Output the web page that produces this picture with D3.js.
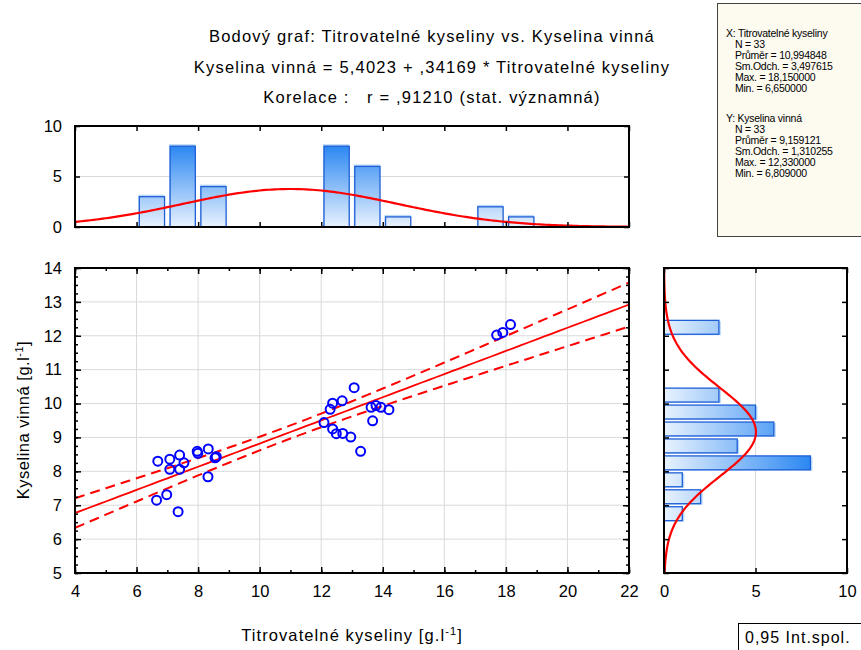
<!DOCTYPE html>
<html>
<head>
<meta charset="utf-8">
<script src="https://cdn.jsdelivr.net/npm/d3@7"></script>
<style>
  html, body { margin: 0; padding: 0; background: #fff; }
  svg { display: block; font-family: "Liberation Sans", Arial, sans-serif; }
</style>
</head>
<body>
<svg id="chart" width="861" height="650"></svg>
<script>
// Titratable acidity (x) and tartaric acid (y), g/l
const titrAcid = [
  6.69, 7.08, 7.40, 7.54, 7.08, 7.40, 7.97, 7.99, 8.33, 8.59, 8.32, 6.98, 6.65, 7.35, 8.55,
  13.07, 12.37, 12.68, 12.29, 13.62, 13.78, 13.94, 14.20, 12.09, 12.37, 12.49, 12.70, 12.96, 13.67, 13.28,
  17.70, 17.90, 18.15
];
const tartAcid = [
  8.30, 8.36, 8.48, 8.25, 8.06, 8.06, 8.59, 8.53, 8.66, 8.43, 7.84, 7.31, 7.15, 6.809, 8.40,
  10.47, 10.01, 10.08, 9.83, 9.89, 9.94, 9.89, 9.82, 9.44, 9.25, 9.11, 9.12, 9.01, 9.49, 8.59,
  12.02, 12.10, 12.33
];

// Fit and descriptive statistics
const intercept = 5.4023, slope = 0.34169, corrR = 0.91210;
const nObs = 33;
const statsX = { mean: 10.994848, sd: 3.497615 };
const statsY = { mean: 9.159121, sd: 1.310255 };

// Histogram bin edges
const xBinEdges = d3.range(6, 20, 1);
const yBinEdges = d3.range(6.5, 13, 0.5);

// Tick values
const xMajorTicks = [4, 6, 8, 10, 12, 14, 16, 18, 20, 22];
const xMinorTicks = d3.range(4, 22.5, 1);
const yMajorTicks = [5, 6, 7, 8, 9, 10, 11, 12, 13, 14];
const yMinorTicks = d3.range(5, 14.01, 0.25);
const countTicks = [0, 5, 10];

const titleLines = [
  "Bodový graf: Titrovatelné kyseliny vs. Kyselina vinná",
  "Kyselina vinná = 5,4023 + ,34169 * Titrovatelné kyseliny",
  "Korelace :   r = ,91210 (stat. významná)"
];
const statLinesX = ["X: Titrovatelné kyseliny", "N = 33", "Průměr = 10,994848", "Sm.Odch. = 3,497615", "Max. = 18,150000", "Min. = 6,650000"];
const statLinesY = ["Y: Kyselina vinná", "N = 33", "Průměr = 9,159121", "Sm.Odch. = 1,310255", "Max. = 12,330000", "Min. = 6,809000"];

const svg = d3.select("#chart");
const RED = "#ff0000", BLUE = "#0000ff", GRID = "#dadada";

// Scales
const x = d3.scaleLinear([4, 22], [75, 629]);
const y = d3.scaleLinear([5, 14], [573, 268]);
const hy = d3.scaleLinear([0, 10], [227, 126]);
const hx = d3.scaleLinear([0, 10], [664, 847]);

const defs = svg.append("defs");
const gTop = defs.append("linearGradient").attr("id", "gradTop")
  .attr("gradientUnits", "userSpaceOnUse")
  .attr("x1", 0).attr("x2", 0).attr("y1", hy(0)).attr("y2", hy(8));
gTop.append("stop").attr("offset", 0).attr("stop-color", "#e8f2fe");
gTop.append("stop").attr("offset", 1).attr("stop-color", "#2c88f2");
const gRight = defs.append("linearGradient").attr("id", "gradRight")
  .attr("gradientUnits", "userSpaceOnUse")
  .attr("y1", 0).attr("y2", 0).attr("x1", hx(0)).attr("x2", hx(8));
gRight.append("stop").attr("offset", 0).attr("stop-color", "#e8f2fe");
gRight.append("stop").attr("offset", 1).attr("stop-color", "#2c88f2");

function clip(id, x0, y0, w, h) {
  defs.append("clipPath").attr("id", id).append("rect")
    .attr("x", x0).attr("y", y0).attr("width", w).attr("height", h);
}
clip("clipMain", 75, 268, 554, 305);
clip("clipTop", 75, 126, 554, 101);
clip("clipRight", 664, 268, 183, 305);

// ---- Titles
svg.append("g").selectAll("text").data(titleLines).join("text")
  .attr("x", 432).attr("y", (d, i) => 42 + i * 30.5)
  .attr("text-anchor", "middle").attr("font-size", 16.5).attr("letter-spacing", 1.2)
  .style("white-space", "pre").attr("fill", "#000").text(d => d);

// ---- Statistics box
svg.append("rect").attr("x", 717.5).attr("y", 3.5).attr("width", 150).attr("height", 233)
  .attr("fill", "#fdfaf0").attr("stroke", "#444").attr("stroke-width", 1);
function statBlock(lines, y0) {
  svg.append("g").selectAll("text").data(lines).join("text")
    .attr("x", (d, i) => i === 0 ? 726 : 735)
    .attr("y", (d, i) => y0 + i * 11)
    .attr("font-size", 10.5).attr("letter-spacing", -0.25).attr("fill", "#000").text(d => d);
}
statBlock(statLinesX, 37);
statBlock(statLinesY, 122);

// ---- Inward tick helper built on d3 axes
function ticksAxis(g, axisFn, scale, values, size) {
  g.call(axisFn(scale).tickValues(values).tickSize(-size).tickFormat(""))
    .call(s => s.select(".domain").remove())
    .call(s => s.selectAll("line").attr("stroke", "#000").attr("stroke-width", 1.5));
}
function labelAxis(g, axisFn, scale, values, pad) {
  g.call(axisFn(scale).tickValues(values).tickSize(0).tickPadding(pad).tickFormat(d3.format("d")))
    .call(s => s.select(".domain").remove())
    .call(s => s.selectAll("text").attr("font-size", 16.5).attr("fill", "#000")
      .attr("font-family", "'Liberation Sans', Arial, sans-serif"));
}

// ---- Top histogram (x distribution)
const topG = svg.append("g");
topG.append("line").attr("x1", 75).attr("x2", 629).attr("y1", hy(5)).attr("y2", hy(5))
  .attr("stroke", GRID).attr("stroke-width", 1);
const xBins = d3.bin().domain([6, 19]).thresholds(xBinEdges)(titrAcid).filter(b => b.length > 0);
const barX = b => x(b.x0 + (b.x1 - b.x0) * 0.09);
const barW = b => x(b.x0 + (b.x1 - b.x0) * 0.91) - barX(b);
topG.append("g").selectAll("rect.sh").data(xBins).join("rect")
  .attr("x", b => barX(b) - 1).attr("y", b => hy(b.length) - 2)
  .attr("width", b => barW(b) + 1).attr("height", b => hy(0) - hy(b.length) + 2)
  .attr("fill", "#9cc9f6").attr("opacity", 0.7);
topG.append("g").selectAll("rect.bar").data(xBins).join("rect")
  .attr("x", barX).attr("y", b => hy(b.length))
  .attr("width", barW).attr("height", b => hy(0) - hy(b.length))
  .attr("fill", "url(#gradTop)").attr("stroke", "#1f5fd6").attr("stroke-width", 1.3);
const normX = v => nObs * 1 / (statsX.sd * Math.sqrt(2 * Math.PI)) *
  Math.exp(-0.5 * Math.pow((v - statsX.mean) / statsX.sd, 2));
topG.append("path").attr("clip-path", "url(#clipTop)")
  .datum(d3.range(4, 22.01, 0.1))
  .attr("d", d3.line().x(v => x(v)).y(v => hy(normX(v))))
  .attr("fill", "none").attr("stroke", RED).attr("stroke-width", 2.2);
ticksAxis(topG.append("g").attr("transform", `translate(0,${hy(0)})`), d3.axisBottom, x, xMajorTicks, 5);
ticksAxis(topG.append("g").attr("transform", `translate(0,${hy(10)})`), d3.axisTop, x, xMajorTicks, 5);
ticksAxis(topG.append("g").attr("transform", "translate(75,0)"), d3.axisLeft, hy, countTicks, 5);
ticksAxis(topG.append("g").attr("transform", "translate(629,0)"), d3.axisRight, hy, countTicks, 5);
labelAxis(topG.append("g").attr("transform", "translate(75,0)"), d3.axisLeft, hy, countTicks, 13);
topG.append("rect").attr("x", 75).attr("y", 126).attr("width", 554).attr("height", 101)
  .attr("fill", "none").attr("stroke", "#000").attr("stroke-width", 2);

// ---- Main scatter plot
const mainG = svg.append("g");
mainG.append("g").selectAll("line").data(xMajorTicks.slice(1, -1)).join("line")
  .attr("x1", d => x(d)).attr("x2", d => x(d)).attr("y1", 268).attr("y2", 573)
  .attr("stroke", GRID).attr("stroke-width", 1);
mainG.append("g").selectAll("line").data(yMajorTicks.slice(1, -1)).join("line")
  .attr("y1", d => y(d)).attr("y2", d => y(d)).attr("x1", 75).attr("x2", 629)
  .attr("stroke", GRID).attr("stroke-width", 1);

// regression line and 95% confidence band for the mean
const Sxx = (nObs - 1) * statsX.sd * statsX.sd;
const sRes = statsY.sd * Math.sqrt(1 - corrR * corrR) * Math.sqrt((nObs - 1) / (nObs - 2));
const tCrit = 2.0395;
const fit = v => intercept + slope * v;
const half = v => tCrit * sRes * Math.sqrt(1 / nObs + Math.pow(v - statsX.mean, 2) / Sxx);
const grid = d3.range(4, 22.01, 0.25);
const lines = mainG.append("g").attr("clip-path", "url(#clipMain)");
lines.append("path").datum(grid)
  .attr("d", d3.line().x(v => x(v)).y(v => y(fit(v))))
  .attr("fill", "none").attr("stroke", RED).attr("stroke-width", 1.8);
[1, -1].forEach(sgn => {
  lines.append("path").datum(grid)
    .attr("d", d3.line().x(v => x(v)).y(v => y(fit(v) + sgn * half(v))))
    .attr("fill", "none").attr("stroke", RED).attr("stroke-width", 2)
    .attr("stroke-dasharray", "10,6");
});

mainG.append("g").selectAll("circle").data(d3.zip(titrAcid, tartAcid)).join("circle")
  .attr("cx", d => x(d[0])).attr("cy", d => y(d[1])).attr("r", 4.5)
  .attr("fill", "none").attr("stroke", BLUE).attr("stroke-width", 2);

ticksAxis(mainG.append("g").attr("transform", "translate(0,573)"), d3.axisBottom, x, xMinorTicks, 3);
ticksAxis(mainG.append("g").attr("transform", "translate(0,573)"), d3.axisBottom, x, xMajorTicks, 6);
ticksAxis(mainG.append("g").attr("transform", "translate(0,268)"), d3.axisTop, x, xMinorTicks, 3);
ticksAxis(mainG.append("g").attr("transform", "translate(0,268)"), d3.axisTop, x, xMajorTicks, 6);
ticksAxis(mainG.append("g").attr("transform", "translate(75,0)"), d3.axisLeft, y, yMinorTicks, 3);
ticksAxis(mainG.append("g").attr("transform", "translate(75,0)"), d3.axisLeft, y, yMajorTicks, 6);
ticksAxis(mainG.append("g").attr("transform", "translate(629,0)"), d3.axisRight, y, yMinorTicks, 3);
ticksAxis(mainG.append("g").attr("transform", "translate(629,0)"), d3.axisRight, y, yMajorTicks, 6);
labelAxis(mainG.append("g").attr("transform", "translate(0,573)"), d3.axisBottom, x, xMajorTicks, 12);
labelAxis(mainG.append("g").attr("transform", "translate(75,0)"), d3.axisLeft, y, yMajorTicks, 13);
mainG.append("rect").attr("x", 75).attr("y", 268).attr("width", 554).attr("height", 305)
  .attr("fill", "none").attr("stroke", "#000").attr("stroke-width", 2);

// axis titles
const xt = svg.append("text").attr("x", 352).attr("y", 641).attr("text-anchor", "middle")
  .attr("font-size", 16.5).attr("letter-spacing", 1.1).attr("fill", "#000");
xt.append("tspan").text("Titrovatelné kyseliny [g.l");
xt.append("tspan").attr("dy", -6).attr("font-size", 11).text("-1");
xt.append("tspan").attr("dy", 6).text("]");
const yt = svg.append("text").attr("transform", "translate(29,420) rotate(-90)")
  .attr("text-anchor", "middle").attr("font-size", 16.5).attr("letter-spacing", 0.5).attr("fill", "#000");
yt.append("tspan").text("Kyselina vinná [g.l");
yt.append("tspan").attr("dy", -6).attr("font-size", 11).text("-1");
yt.append("tspan").attr("dy", 6).text("]");

// ---- Right histogram (y distribution)
const rightG = svg.append("g");
rightG.append("line").attr("x1", hx(5)).attr("x2", hx(5)).attr("y1", 268).attr("y2", 573)
  .attr("stroke", GRID).attr("stroke-width", 1);
const yBins = d3.bin().domain([6.5, 12.5]).thresholds(yBinEdges)(tartAcid).filter(b => b.length > 0);
const barY = b => y(b.x0 + (b.x1 - b.x0) * 0.91);
const barH = b => y(b.x0 + (b.x1 - b.x0) * 0.09) - barY(b);
rightG.append("g").selectAll("rect.sh").data(yBins).join("rect")
  .attr("x", hx(0)).attr("y", b => barY(b) + 1)
  .attr("width", b => hx(b.length) - hx(0) + 2).attr("height", barH)
  .attr("fill", "#9cc9f6").attr("opacity", 0.7);
rightG.append("g").selectAll("rect.bar").data(yBins).join("rect")
  .attr("x", hx(0)).attr("y", barY)
  .attr("width", b => hx(b.length) - hx(0)).attr("height", barH)
  .attr("fill", "url(#gradRight)").attr("stroke", "#1f5fd6").attr("stroke-width", 1.3);
const normY = v => nObs * 0.5 / (statsY.sd * Math.sqrt(2 * Math.PI)) *
  Math.exp(-0.5 * Math.pow((v - statsY.mean) / statsY.sd, 2));
rightG.append("path").attr("clip-path", "url(#clipRight)")
  .datum(d3.range(5, 14.01, 0.05))
  .attr("d", d3.line().x(v => hx(normY(v))).y(v => y(v)))
  .attr("fill", "none").attr("stroke", RED).attr("stroke-width", 2.2);
ticksAxis(rightG.append("g").attr("transform", "translate(664,0)"), d3.axisLeft, y, yMajorTicks, 5);
ticksAxis(rightG.append("g").attr("transform", "translate(847,0)"), d3.axisRight, y, yMajorTicks, 5);
ticksAxis(rightG.append("g").attr("transform", "translate(0,573)"), d3.axisBottom, hx, countTicks, 5);
ticksAxis(rightG.append("g").attr("transform", "translate(0,268)"), d3.axisTop, hx, countTicks, 5);
labelAxis(rightG.append("g").attr("transform", "translate(0,573)"), d3.axisBottom, hx, countTicks, 12);
rightG.append("rect").attr("x", 664).attr("y", 268).attr("width", 183).attr("height", 305)
  .attr("fill", "none").attr("stroke", "#000").attr("stroke-width", 2);

// ---- Legend box
svg.append("rect").attr("x", 738.5).attr("y", 623.5).attr("width", 130).attr("height", 30)
  .attr("fill", "#fff").attr("stroke", "#000").attr("stroke-width", 1);
svg.append("text").attr("x", 745).attr("y", 643).attr("font-size", 16).attr("letter-spacing", 1)
  .attr("fill", "#000").text("0,95 Int.spol.");
</script>
</body>
</html>
